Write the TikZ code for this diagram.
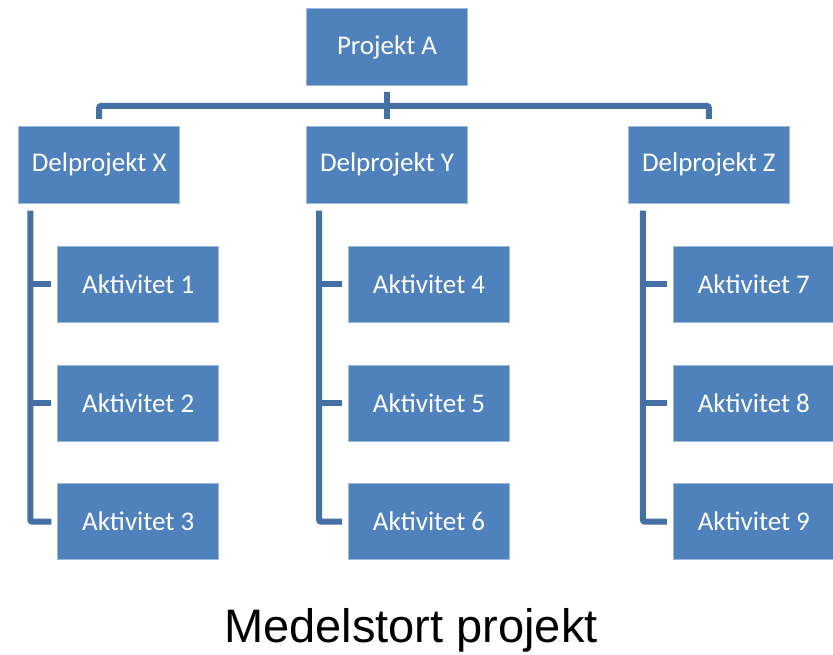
\documentclass[tikz,border=0pt]{standalone}
\usepackage{fontspec}
\setmainfont{Carlito}
\newfontfamily\titlefont{Liberation Sans}
\usetikzlibrary{positioning}
\definecolor{boxblue}{HTML}{4F81BD}
\definecolor{lineblue}{HTML}{4470A6}

\begin{document}
\begin{tikzpicture}[
x=1pt, y=-1pt,
boxnode/.style={rectangle, draw=boxblue!55!white, line width=0.8pt, fill=boxblue, text=white, font=\fontsize{27}{30}\selectfont, minimum width=161pt, minimum height=77pt, inner sep=0pt},
actnode/.style={boxnode, minimum width=161pt, minimum height=76pt},
linkline/.style={draw=lineblue, line width=6pt}
]
    \useasboundingbox (0,0) rectangle (833,654);

    %Nodes
    \node[boxnode]    
        (pA)    at (387,47)                 {Projekt A};
    \node[boxnode]    
        (dY)    [below=40pt of pA]          {Delprojekt Y};
    \node[boxnode]    
        (dX)    [left=126pt of dY]          {Delprojekt X};
    \node[boxnode]    
        (dZ)    [right=160pt of dY]         {Delprojekt Z};

    \node[actnode]    
        (a1)    [below right=42pt and 39pt of dX.south west] {Aktivitet 1};
    \node[actnode]    
        (a2)    [below=42pt of a1]          {Aktivitet 2};
    \node[actnode]    
        (a3)    [below=42pt of a2]          {Aktivitet 3};

    \node[actnode]    
        (a4)    [below right=42pt and 42pt of dY.south west] {Aktivitet 4};
    \node[actnode]    
        (a5)    [below=42pt of a4]          {Aktivitet 5};
    \node[actnode]    
        (a6)    [below=42pt of a5]          {Aktivitet 6};

    \node[actnode]    
        (a7)    [below right=42pt and 45pt of dZ.south west] {Aktivitet 7};
    \node[actnode]    
        (a8)    [below=42pt of a7]          {Aktivitet 8};
    \node[actnode]    
        (a9)    [below=42pt of a8]          {Aktivitet 9};

    \node[font=\titlefont\fontsize{47}{52}\selectfont, anchor=base]
        (title) at (411,642)                {Medelstort projekt};

    %Lines
    \draw[linkline] 
        ([yshift=-6pt]pA.south) -- ([yshift=7pt]dY.north);
    \draw[linkline, rounded corners=2pt] 
        ([yshift=7pt]dX.north) |- ([yshift=-20pt]pA.south) -| ([yshift=7pt]dZ.north);

    \coordinate (sX) at ([xshift=12pt,yshift=-7pt]dX.south west);
    \coordinate (sY) at ([xshift=13pt,yshift=-7pt]dY.south west);
    \coordinate (sZ) at ([xshift=15pt,yshift=-7pt]dZ.south west);

    \draw[linkline, rounded corners=2pt] 
        (sX) |- ([xshift=-6pt]a3.west);
    \draw[linkline] (sX |- a1.west) -- ([xshift=-6pt]a1.west);
    \draw[linkline] (sX |- a2.west) -- ([xshift=-6pt]a2.west);

    \draw[linkline, rounded corners=2pt] 
        (sY) |- ([xshift=-6pt]a6.west);
    \draw[linkline] (sY |- a4.west) -- ([xshift=-6pt]a4.west);
    \draw[linkline] (sY |- a5.west) -- ([xshift=-6pt]a5.west);

    \draw[linkline, rounded corners=2pt] 
        (sZ) |- ([xshift=-6pt]a9.west);
    \draw[linkline] (sZ |- a7.west) -- ([xshift=-6pt]a7.west);
    \draw[linkline] (sZ |- a8.west) -- ([xshift=-6pt]a8.west);
\end{tikzpicture}
\end{document}
